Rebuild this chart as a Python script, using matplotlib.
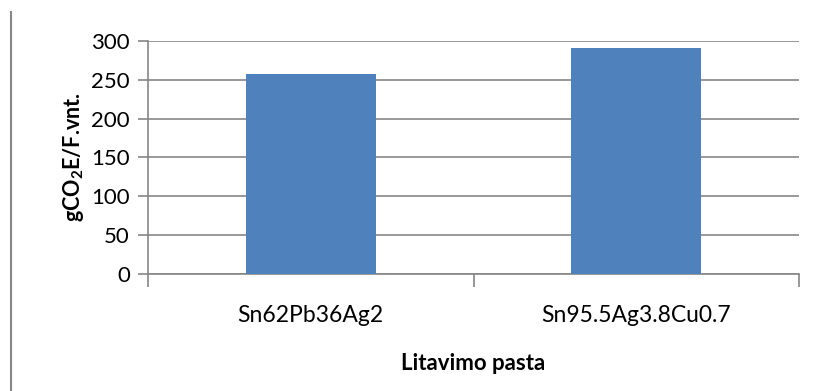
import matplotlib
matplotlib.use('Agg')
import matplotlib.pyplot as plt
from matplotlib.lines import Line2D

plt.rcParams['font.family'] = ['Lato', 'DejaVu Sans']
plt.rcParams['mathtext.fontset'] = 'custom'
plt.rcParams['mathtext.rm'] = 'Lato'
plt.rcParams['mathtext.bf'] = 'Lato:bold'

pastos = ['Sn62Pb36Ag2', 'Sn95.5Ag3.8Cu0.7']
emisijos = [258, 291]
y_ticks = [0, 50, 100, 150, 200, 250, 300]

pilka = '#868686'

fig = plt.figure(figsize=(8.14, 3.91), dpi=100)
ax = fig.add_axes([148/814, 1 - 274/391, 651/814, 233/391])

x = list(range(len(pastos)))
ax.bar(x, emisijos, width=0.4, color='#4F81BD', zorder=3)

ax.set_xlim(-0.5, len(pastos) - 0.5)
ax.set_ylim(0, 300)
ax.set_yticks(y_ticks)
ax.grid(axis='y', color=pilka, linewidth=1.2, zorder=0)

# kategoriju ribos - maziosios zymes, pavadinimai - be zymiu
ax.set_xticks(x)
ax.set_xticklabels(pastos, fontsize=16.5)
ax.set_xticks([i - 0.5 for i in range(len(pastos) + 1)], minor=True)
ax.tick_params(axis='x', which='major', length=0, pad=22)
ax.tick_params(axis='x', which='minor', length=9, color=pilka, width=1.2)
ax.tick_params(axis='y', length=7, color=pilka, width=1.2, labelsize=16, pad=6)

for s in ['top', 'right']:
    ax.spines[s].set_visible(False)
for s in ['left', 'bottom']:
    ax.spines[s].set_color(pilka)
    ax.spines[s].set_linewidth(1.2)

ax.set_ylabel(r'gCO$_\mathbf{2}$E/F.vnt.', fontsize=15.5, fontweight='bold', labelpad=4)
ax.set_xlabel('Litavimo pasta', fontsize=16, fontweight='bold', labelpad=20)

# vertikali linija kairiajame krasteje
fig.add_artist(Line2D([11/814, 11/814], [0, 1 - 12/391], color=pilka, linewidth=1.5))

plt.savefig('out.png', dpi=100)
